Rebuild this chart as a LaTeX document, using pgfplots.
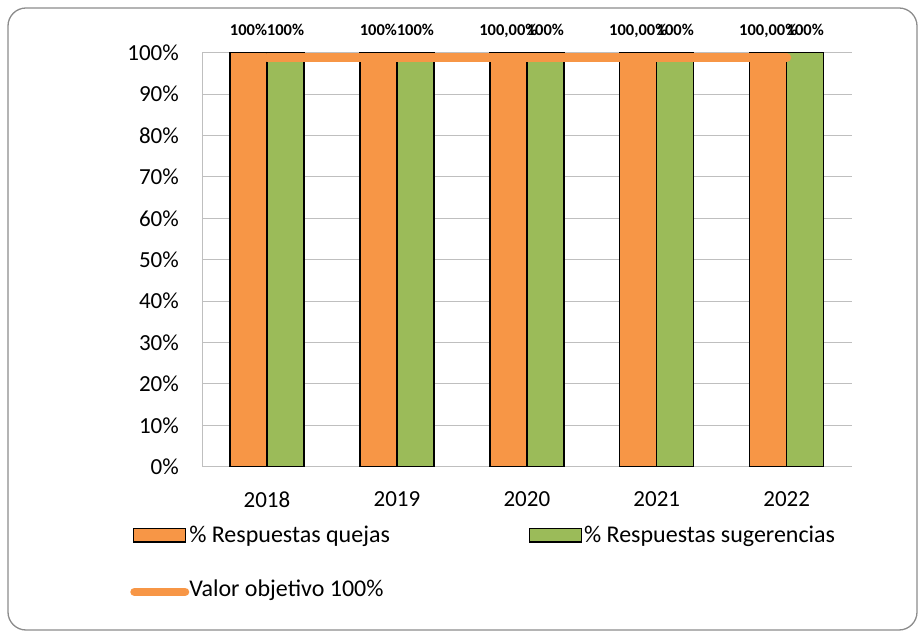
\documentclass[border=0pt]{standalone}
\usepackage{fontspec}
\setmainfont{Carlito}
\usepackage{pgfplots}
\pgfplotsset{compat=1.18}
\usepackage{pgfplotstable}

\definecolor{quejas}{HTML}{F79646}
\definecolor{sugerencias}{HTML}{9BBB59}
\definecolor{gridgray}{HTML}{BFBFBF}
\definecolor{framegray}{HTML}{8C8C8C}

\newcommand\tickfont{\fontsize{23bp}{27bp}\selectfont}
\newcommand\legfont{\fontsize{24bp}{28bp}\selectfont}
\newcommand\labelfont{\fontsize{16.5bp}{20bp}\selectfont\bfseries}

% % de respuestas a quejas (etiqueta sin el signo %)
\pgfplotstableread{
x y lab
0 1 100
1 1 100
2 1 100,00
3 1 100,00
4 1 100,00
}\tblquejas

% % de respuestas a sugerencias
\pgfplotstableread{
x y lab
0 1 100
1 1 100
2 1 100
3 1 100
4 1 100
}\tblsug

% valor objetivo
\pgfplotstableread{
x y
0 0.988
1 0.988
2 0.988
3 0.988
4 0.988
}\tblobj

\begin{document}
\begin{tikzpicture}
\useasboundingbox (0bp,0bp) rectangle (920bp,633bp);
\draw[framegray, line width=1.3bp, rounded corners=18bp] (8bp,3bp) rectangle (917bp,625bp);
\begin{axis}[
  at={(202bp,166.3bp)}, anchor=south west,
  scale only axis, width=649.7bp, height=414bp,
  xmin=-0.5, xmax=4.5, ymin=0, ymax=1,
  xtick={0,1,2,3,4}, xticklabels={2018,2019,2020,2021,2022},
  ytick={0,0.1,0.2,0.3,0.4,0.5,0.6,0.7,0.8,0.9,1},
  yticklabels={0\%,10\%,20\%,30\%,40\%,50\%,60\%,70\%,80\%,90\%,100\%},
  /pgf/number format/assume math mode=true,
  axis x line*=bottom, axis y line*=left,
  axis line style={gridgray, line width=1bp, -},
  ymajorgrids, major grid style={gridgray, line width=1bp},
  major tick length=0pt,
  tick label style={font=\tickfont, inner sep=0pt, text=black},
  yticklabel style={anchor=east, xshift=-23bp},
  xticklabel style={anchor=north, yshift=-25bp},
  clip=false,
  legend columns=2,
  legend style={
    at={(-0.1104,-0.1438)}, anchor=north west,
    draw=none, fill=none, inner sep=0pt, outer sep=0pt,
    font=\legfont, text=black,
    cells={anchor=base west},
    nodes={inner sep=0pt},
    column sep=0pt, row sep=35.5bp,
    /tikz/every even column/.append style={column sep=139bp},
  },
]
\addplot[ybar, bar width=37bp, bar shift=-18.5bp,
  fill=quejas, draw=black, line width=1.3bp,
  point meta=explicit symbolic,
  nodes near coords={\smash{\pgfplotspointmeta\%}},
  every node near coord/.style={anchor=base, xshift=-18.5bp, yshift=16.7bp, inner sep=0pt, font=\labelfont, text=black},
  legend image code/.code={
    \draw[fill=quejas, draw=black, line width=1.3bp] (0.65bp,0.65bp) rectangle (52.35bp,14bp);
    \path (54.5bp,0bp);}
] table[x=x, y=y, meta=lab] {\tblquejas};
\addlegendentry{\% Respuestas quejas}

\addplot[ybar, bar width=37bp, bar shift=18.5bp,
  fill=sugerencias, draw=black, line width=1.3bp,
  point meta=explicit symbolic,
  nodes near coords={\smash{\pgfplotspointmeta\%}},
  every node near coord/.style={anchor=base, xshift=18.5bp, yshift=16.7bp, inner sep=0pt, font=\labelfont, text=black},
  legend image code/.code={
    \draw[fill=sugerencias, draw=black, line width=1.3bp] (0.65bp,0.65bp) rectangle (52.35bp,14bp);
    \path (54.5bp,0bp);}
] table[x=x, y=y, meta=lab] {\tblsug};
\addlegendentry{\% Respuestas sugerencias}

\addplot[quejas, line width=9bp, line cap=round, mark=none,
  legend image code/.code={
    \draw[quejas, line width=8.5bp, line cap=round] (1.5bp,4.5bp) -- (52bp,4.5bp);}
] table[x=x, y=y] {\tblobj};
\addlegendentry{Valor objetivo 100\%}
\end{axis}
\end{tikzpicture}
\end{document}
